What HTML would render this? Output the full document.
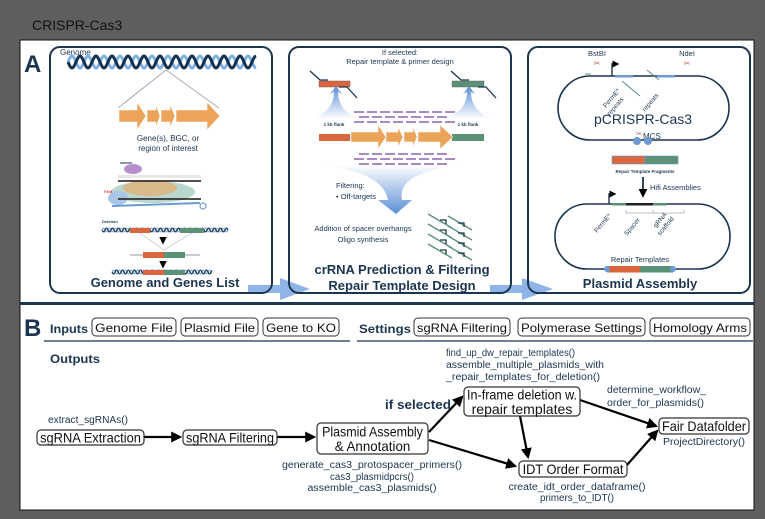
<!DOCTYPE html>
<html><head><meta charset="utf-8">
<style>
html,body{margin:0;padding:0;background:#5e5e5e;}
svg{display:block;}
text{font-family:"Liberation Sans",sans-serif;}
.n{font-family:"Liberation Sans Narrow","Liberation Sans",sans-serif;}
</style></head>
<body>
<svg id="s" width="765" height="519" viewBox="0 0 765 519" xmlns="http://www.w3.org/2000/svg">
<defs>
<marker id="ah" viewBox="0 0 10 10" refX="8" refY="5" markerWidth="5" markerHeight="5" orient="auto"><path d="M0,0L10,5L0,10z" fill="#000"/></marker>
<linearGradient id="fun" x1="0" y1="0" x2="0" y2="1"><stop offset="0" stop-color="#fff"/><stop offset="1" stop-color="#5b8fd6"/></linearGradient>
<linearGradient id="up" x1="0" y1="1" x2="0" y2="0"><stop offset="0" stop-color="#fff"/><stop offset="1" stop-color="#5b8fd6"/></linearGradient>
</defs>
<text x="32" y="30" font-size="14" fill="#111">CRISPR-Cas3</text>
<rect x="20" y="40" width="734" height="470" fill="#fff" stroke="#111" stroke-width="1"/>
<text x="24" y="72" font-size="24" font-weight="bold" fill="#1b3550">A</text>

<path d="M248,285 H280 V278 L310,289 L280,300 V293 H248z" fill="#8fb5e8"/>
<path d="M490,285 H522 V278 L553,289 L522,300 V293 H490z" fill="#8fb5e8"/>

<g>
<rect x="50" y="47" width="222" height="246" rx="10" fill="none" stroke="#1b3550" stroke-width="2"/>
<text x="60" y="55" font-size="8" fill="#1b3550">Genome</text>
<g id="helix1"></g>
<line x1="166" y1="70" x2="118" y2="108" stroke="#7a8a99" stroke-width="0.7"/>
<line x1="166" y1="70" x2="219" y2="108" stroke="#7a8a99" stroke-width="0.7"/>
<path d="M119,110 H137 V102 L146,116 L137,130 V122 H119z M147,110 H156 V104 L160,116 L156,128 V122 H147z M161,110 H170 V104 L175,116 L170,128 V122 H161z M176,110 H207 V102 L220,116 L207,130 V122 H176z" fill="#eba45a" stroke="#fff" stroke-width="0.6"/>
<text x="168" y="141" font-size="8" text-anchor="middle" fill="#1b3550">Gene(s), BGC, or</text>
<text x="168" y="151" font-size="8" text-anchor="middle" fill="#1b3550">region of interest</text>
<g>
<path d="M120,163 h12" stroke="#1b3550" stroke-width="1"/>
<ellipse cx="133" cy="169" rx="9" ry="5" fill="#b58fce"/>
<rect x="118" y="175" width="83" height="3" fill="#e8e8e8"/>
<ellipse cx="153" cy="192" rx="42" ry="11" fill="#b9d6cf"/>
<ellipse cx="150" cy="188" rx="27" ry="8" fill="#d9b98a"/>
<ellipse cx="118" cy="198" rx="10" ry="7" fill="#a9c6e6"/>
<line x1="112" y1="206" x2="200" y2="203" stroke="#6b9bd2" stroke-width="2"/>
<circle cx="203" cy="206" r="3" fill="none" stroke="#6b9bd2" stroke-width="1.2"/>
<rect x="118" y="180" width="83" height="2" fill="#222" opacity=".8"/>
<rect x="118" y="198" width="83" height="2" fill="#222" opacity=".8"/>
<text x="104" y="193" font-size="4" fill="#c00">PAM</text>
</g>
<text x="102" y="223" font-size="4" font-weight="bold" fill="#1b3550">Deletion</text>
<g id="helix2"></g>
<rect x="130" y="228" width="20" height="5" fill="#d9663d"/>
<rect x="180" y="228" width="24" height="5" fill="#5b9277"/>
<line x1="140" y1="233" x2="164" y2="250" stroke="#999" stroke-width=".5"/>
<line x1="192" y1="233" x2="164" y2="250" stroke="#999" stroke-width=".5"/>
<path d="M163,237 v6" stroke="#1b3550" stroke-width="1.5" marker-end="url(#ah)"/>
<line x1="130" y1="255" x2="200" y2="255" stroke="#1b3550" stroke-width=".6"/>
<rect x="143" y="252" width="21" height="6" fill="#d9663d"/>
<rect x="164" y="252" width="21" height="6" fill="#5b9277"/>
<path d="M163,261 v6" stroke="#1b3550" stroke-width="1.5" marker-end="url(#ah)"/>
<g id="helix3"></g>
<rect x="143" y="270" width="21" height="5" fill="#d9663d"/>
<rect x="164" y="270" width="21" height="5" fill="#5b9277"/>
<text x="165" y="287" font-size="13" font-weight="bold" text-anchor="middle" fill="#1b3550">Genome and Genes List</text>
</g>

<g>
<rect x="289" y="47" width="222" height="246" rx="10" fill="none" stroke="#1b3550" stroke-width="2"/>
<text x="400" y="55" font-size="7.5" text-anchor="middle" fill="#1b3550">If selected:</text>
<text x="400" y="64" font-size="7.5" text-anchor="middle" fill="#1b3550">Repair template &amp; primer design</text>
<rect x="319" y="81" width="31" height="6" fill="#d9663d" stroke="#555" stroke-width=".4"/>
<rect x="452" y="81" width="32" height="6" fill="#5b9277" stroke="#555" stroke-width=".4"/>
<path d="M310,71 l10,9 h8 M339,87 h8 l10,11 M451,71 l10,9 h8 M478,87 h8 l10,11" stroke="#1b3550" stroke-width="1.3" fill="none"/>
<path d="M313,119 Q334,110 334,92 L330,94 L336,86 L342,94 L338,92 Q338,110 358,119z" fill="url(#up)"/>
<path d="M446,119 Q467,110 467,92 L463,94 L469,86 L475,94 L471,92 Q471,110 491,119z" fill="url(#up)"/>
<text x="334" y="126" font-size="4.5" font-weight="bold" text-anchor="middle" fill="#1b3550">1 kb flank</text>
<text x="468" y="126" font-size="4.5" font-weight="bold" text-anchor="middle" fill="#1b3550">1 kb flank</text>
<g id="dashes"></g>
<rect x="319" y="134" width="31" height="7" fill="#d9663d"/>
<rect x="452" y="134" width="32" height="7" fill="#5b9277"/>
<path d="M351,132 H378 V125 L386,137 L378,149 V142 H351z M386,132 H398 V127 L403,137 L398,147 V142 H386z M404,132 H413 V127 L417,137 L413,147 V142 H404z M418,132 H440 V125 L453,137 L440,149 V142 H418z" fill="#eba45a" stroke="#fff" stroke-width=".5"/>
<path d="M315,165 Q382,170 388,200 L378,200 L396,214 L412,200 L402,200 Q396,170 470,165z" fill="url(#fun)"/>
<text x="336" y="188" font-size="7.5" fill="#1b3550">Filtering:</text>
<text x="336" y="199" font-size="7.5" fill="#1b3550">• Off-targets</text>
<text x="363" y="231" font-size="7.5" text-anchor="middle" fill="#1b3550">Addition of spacer overhangs</text>
<text x="363" y="242" font-size="7.5" text-anchor="middle" fill="#1b3550">Oligo synthesis</text>
<g id="oligos"></g>
<text x="402" y="274" font-size="13" font-weight="bold" text-anchor="middle" fill="#1b3550">crRNA Prediction &amp; Filtering</text>
<text x="402" y="290" font-size="13" font-weight="bold" text-anchor="middle" fill="#1b3550">Repair Template Design</text>
</g>

<g>
<rect x="528" y="47" width="222" height="246" rx="10" fill="none" stroke="#1b3550" stroke-width="2"/>
<text x="597" y="56" font-size="7.5" text-anchor="middle" fill="#1b3550">BstBI</text>
<text x="687" y="56" font-size="7.5" text-anchor="middle" fill="#1b3550">NdeI</text>
<text x="597" y="66" font-size="8" text-anchor="middle" fill="#b55">✂</text>
<text x="687" y="66" font-size="8" text-anchor="middle" fill="#b55">✂</text>
<rect x="558" y="76" width="171" height="64" rx="32" fill="none" stroke="#1b3550" stroke-width="1.6"/>
<path d="M612,76 v-12 h6" stroke="#1b3550" stroke-width="1.4" fill="none" marker-end="url(#ah)"/>
<rect x="615" y="75" width="18" height="2.5" fill="#6b9bd2"/>
<rect x="657" y="75" width="18" height="2.5" fill="#6b9bd2"/>
<path d="M585,74 h6 M622,81 l18,15 M647,70 l12,10" stroke="#5b9277" stroke-width="1" fill="none"/>
<text transform="translate(606,108) rotate(-50)" font-size="6.5" fill="#1b3550">PermE*</text>
<text transform="translate(610,116) rotate(-50)" font-size="6.5" fill="#1b3550">repeats</text>
<text transform="translate(645,112) rotate(-50)" font-size="6.5" fill="#1b3550">repeats</text>
<text x="643" y="124" font-size="14" text-anchor="middle" fill="#1b3550">pCRISPR-Cas3</text>
<text x="643" y="139" font-size="8" fill="#1b3550">MCS</text>
<text x="639" y="136" font-size="7" text-anchor="middle" fill="#b55">✂</text>
<circle cx="637" cy="141" r="4" fill="#6b9bd2"/><circle cx="648" cy="141" r="4" fill="#6b9bd2"/>
<rect x="612" y="156" width="33" height="8" fill="#d9663d" stroke="#6b9bd2" stroke-width=".6"/>
<rect x="645" y="156" width="33" height="8" fill="#5b9277" stroke="#6b9bd2" stroke-width=".6"/>
<text x="645" y="173" font-size="4.5" font-weight="bold" text-anchor="middle" fill="#1b3550">Repair Template Fragments</text>
<path d="M643,177 v19" stroke="#1b3550" stroke-width="1.8" marker-end="url(#ah)"/>
<text x="650" y="190" font-size="7.5" fill="#1b3550">Hifi Assemblies</text>
<rect x="555" y="204" width="175" height="65" rx="32" fill="none" stroke="#1b3550" stroke-width="1.6"/>
<path d="M609,204 v-10 h6" stroke="#1b3550" stroke-width="1.4" fill="none" marker-end="url(#ah)"/>
<rect x="612" y="203" width="14" height="2.5" fill="#5b9277"/>
<rect x="626" y="203" width="27" height="2.5" fill="#222"/>
<rect x="653" y="203" width="14" height="2.5" fill="#5b9277"/>
<path d="M626,210 v3 h27 v-3 M653,213 h31 v-3" stroke="#aaa" stroke-width=".8" fill="none"/>
<text transform="translate(597,233) rotate(-50)" font-size="6.5" fill="#1b3550">PermE*</text>
<text transform="translate(627,236) rotate(-50)" font-size="6.5" fill="#1b3550">Spacer</text>
<text transform="translate(656,228) rotate(-50)" font-size="6.5" fill="#1b3550">gRNA</text>
<text transform="translate(660,236) rotate(-50)" font-size="6.5" fill="#1b3550">scaffold</text>
<text x="640" y="262" font-size="7.5" text-anchor="middle" fill="#1b3550">Repair Templates</text>
<rect x="607" y="266" width="33" height="6.5" fill="#d9663d"/>
<rect x="640" y="266" width="33" height="6.5" fill="#5b9277"/>
<circle cx="607" cy="269" r="3" fill="#6b9bd2"/><circle cx="673" cy="269" r="3" fill="#6b9bd2"/>
<text x="640" y="288" font-size="13" font-weight="bold" text-anchor="middle" fill="#1b3550">Plasmid Assembly</text>
</g>

<rect x="20" y="302" width="734" height="3" fill="#1b3550"/>

<text x="24" y="336" font-size="24" font-weight="bold" fill="#1b3550">B</text>
<text class="n" x="50" y="333" font-size="12" font-weight="bold" fill="#1b3550" textLength="38" lengthAdjust="spacingAndGlyphs">Inputs</text>
<g id="pills"></g>
<line x1="44" y1="341" x2="350" y2="341" stroke="#1b3550" stroke-width="1.2"/>
<line x1="357" y1="341" x2="753" y2="341" stroke="#1b3550" stroke-width="1.2"/>
<text class="n" x="359" y="333" font-size="12" font-weight="bold" fill="#1b3550" textLength="52" lengthAdjust="spacingAndGlyphs">Settings</text>
<text class="n" x="50" y="363" font-size="12" font-weight="bold" fill="#1b3550" textLength="50" lengthAdjust="spacingAndGlyphs">Outputs</text>

<g id="edges" stroke="#000" stroke-width="2.2" fill="none">
<line x1="144" y1="437" x2="180" y2="437" marker-end="url(#ah)"/>
<line x1="277" y1="437" x2="314" y2="437" marker-end="url(#ah)"/>
<line x1="429" y1="432" x2="462" y2="397" marker-end="url(#ah)"/>
<line x1="429" y1="440" x2="515" y2="466" marker-end="url(#ah)"/>
<line x1="520" y1="416" x2="528" y2="457" marker-end="url(#ah)"/>
<line x1="580" y1="400" x2="656" y2="426" marker-end="url(#ah)"/>
<line x1="627" y1="465" x2="657" y2="431" marker-end="url(#ah)"/>
</g>
<g id="nodes"></g>
<g id="fn" fill="#1b3550"></g>
<text class="n" x="385" y="409" font-size="13" font-weight="bold" fill="#1b3550" textLength="66" lengthAdjust="spacingAndGlyphs">if selected</text>
</svg>
<script>
var NS="http://www.w3.org/2000/svg";
function mk(p,tag,a){var e=document.createElementNS(NS,tag);for(var k in a)e.setAttribute(k,a[k]);p.appendChild(e);return e;}
function helix(id,x0,x1,y,amp,per,w,c1,c2){
 var g=document.getElementById(id);
 [[c2,Math.PI],[c1,0]].forEach(function(s){var d="";for(var x=x0;x<=x1;x+=1){var yy=y+amp*Math.sin((x-x0)/per*2*Math.PI+s[1]);d+=(x==x0?"M":"L")+x+","+yy.toFixed(2);}
 mk(g,"path",{d:d,stroke:s[0],"stroke-width":w,fill:"none"});});
}
helix("helix1",68,256,62,6,16,3,"#13324d","#7fb0e8");
helix("helix2",102,228,230,2,6,1.2,"#1b3550","#7fb0e8");
helix("helix3",112,212,272,2,6,1.2,"#1b3550","#7fb0e8");
var dg=document.getElementById("dashes");
[111,116,121,153,158,163].forEach(function(y,i){for(var x=354+(i%2)*5;x<450;x+=13)mk(dg,"rect",{x:x,y:y,width:10,height:2,fill:"#a98bc4"});});
var og=document.getElementById("oligos");
for(var i=0;i<4;i++){var y=214+i*10;mk(og,"line",{x1:428,y1:y,x2:452,y2:y+14,stroke:"#5b9277","stroke-width":1.4});mk(og,"line",{x1:448,y1:y+2,x2:472,y2:y+16,stroke:"#5b9277","stroke-width":1.4});mk(og,"path",{d:"M440,"+(y+6)+" h6 v4",stroke:"#1b3550","stroke-width":1.3,fill:"none"});mk(og,"path",{d:"M458,"+(y+9)+" h6 v4",stroke:"#1b3550","stroke-width":1.3,fill:"none"});}
var pg=document.getElementById("pills");
[["Genome File",92,176],["Plasmid File",181,258],["Gene to KO",263,339],["sgRNA Filtering",414,510],["Polymerase Settings",518,645],["Homology Arms",650,750]].forEach(function(p){
 var g=mk(pg,"g",{});
 
 
 mk(g,"rect",{x:p[1],y:318,width:p[2]-p[1],height:18,rx:4,fill:"#fff",stroke:"#333","stroke-width":1});
 var t=mk(g,"text",{x:(p[1]+p[2])/2,y:332,"font-size":12,"text-anchor":"middle",fill:"#111","class":"n",textLength:(p[2]-p[1]-6),lengthAdjust:"spacingAndGlyphs"});t.textContent=p[0];
});
var ng=document.getElementById("nodes");
[[["sgRNA Extraction"],37,430,107,15],[["sgRNA Filtering"],183,430,94,15],[["Plasmid Assembly","& Annotation"],317,423,111,31],[["In-frame deletion w.","repair templates"],464,387,116,29],[["IDT Order Format"],519,461,108,16],[["Fair Datafolder"],659,418,90,16]].forEach(function(n){
 var g=mk(ng,"g",{});
 
 
 mk(g,"rect",{x:n[1],y:n[2],width:n[3],height:n[4],rx:4,fill:"#fff",stroke:"#333","stroke-width":1.2});
 var L=n[0].length;
 n[0].forEach(function(s,i){var cy=n[2]+n[4]/2+(i-(L-1)/2)*14.5+5;var t=mk(g,"text",{x:n[1]+n[3]/2,y:cy,"font-size":14,"text-anchor":"middle",fill:"#111","class":"n",textLength:Math.min(n[3]-6,s.length*6.3),lengthAdjust:"spacingAndGlyphs"});t.textContent=s;});
});
var fg=document.getElementById("fn");
[["extract_sgRNAs()",48,423,"start",80],["find_up_dw_repair_templates()",446,356,"start",129],["assemble_multiple_plasmids_with",446,368,"start",158],["_repair_templates_for_deletion()",446,380,"start",154],["determine_workflow_",607,393,"start",99],["order_for_plasmids()",607,406,"start",97],["ProjectDirectory()",704,445,"middle",82],["generate_cas3_protospacer_primers()",372,468,"middle",180],["cas3_plasmidpcrs()",372,480,"middle",84],["assemble_cas3_plasmids()",372,491,"middle",129],["create_idt_order_dataframe()",577,490,"middle",137],["primers_to_IDT()",577,501,"middle",74]].forEach(function(f){
 var t=mk(fg,"text",{x:f[1],y:f[2],"font-size":10,"text-anchor":f[3],"class":"n",textLength:f[4],lengthAdjust:"spacingAndGlyphs"});
 
 
 t.textContent=f[0];
});
</script>
</body></html>
